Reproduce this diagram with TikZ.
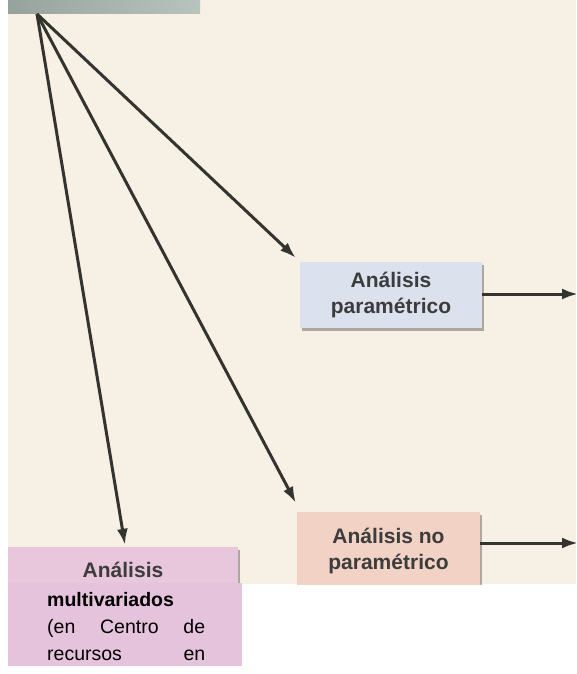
\documentclass[tikz,border=0pt]{standalone}
\usepackage{fontspec}
\setmainfont{Liberation Sans}
\usetikzlibrary{arrows.meta,shadows}
\definecolor{bgcream}{HTML}{F7F0E4}
\definecolor{topgrey}{HTML}{B9C3BE}
\definecolor{topgreyd}{HTML}{96A39C}
\definecolor{parblue}{HTML}{DCE1EE}
\definecolor{noparpink}{HTML}{F1D2C5}
\definecolor{multipink}{HTML}{E8C7DD}
\definecolor{flatpink}{HTML}{E6C3DC}
\definecolor{arrowgrey}{HTML}{33332F}
\definecolor{boxtext}{HTML}{3C3C3C}
\begin{document}
\begin{tikzpicture}[x=1pt,y=-1pt,
  arr/.style={line width=3pt, draw=arrowgrey, -{Latex[length=16pt,width=11pt]}},
  photobox/.style={inner sep=0pt, font=\fontsize{21}{26}\selectfont\bfseries, text=boxtext, align=center,
    drop shadow={shadow xshift=2pt,shadow yshift=-3pt,opacity=0.3,fill=black}},
  flatbox/.style={inner sep=0pt, fill=flatpink},
  flattext/.style={inner sep=0pt, anchor=north west, text width=158pt, align=left,
    font=\fontsize{19.5}{27}\selectfont, text=black}
]
\useasboundingbox (0,0) rectangle (576,674);
\fill[white] (0,0) rectangle (576,674);
\fill[bgcream] (8,0) rectangle (576,584);
\begin{scope}
\clip (8,0) rectangle (576,584);
\node[inner sep=0pt, minimum width=192pt, minimum height=14pt, left color=topgreyd, right color=topgrey] (top) at (104,7) {};
\coordinate (src) at (37,14);
\node[photobox, fill=parblue, minimum width=182pt, minimum height=66pt] (par) at (391,295) {Análisis\\paramétrico};
\node[photobox, fill=noparpink, minimum width=183pt, minimum height=78pt] (nopar) at (388.5,551) {Análisis no\\paramétrico};
\node[photobox, fill=multipink, minimum width=230pt, minimum height=46pt] (multi) at (123,570) {Análisis};
\coordinate (parout) at (578,294);
\coordinate (noparout) at (578,543);
\draw[arr] (src) -- ([xshift=-4pt,yshift=4pt]par.north west);
\draw[arr] (src) -- ([xshift=-1pt,yshift=9pt]nopar.north west);
\draw[arr] (src) -- ([xshift=2pt,yshift=2pt]multi.north);
\draw[arr] (par.east |- parout) -- (parout);
\draw[arr] (nopar.east |- noparout) -- (noparout);
\end{scope}
\node[flatbox, minimum width=234pt, minimum height=83pt, anchor=north west] (multiflat) at (8,583) {};
\node[flattext] (multilabel) at (47,592) {\textbf{multivariados}\\\makebox[158pt][l]{(en\hfill Centro\hfill de}\\\makebox[158pt][l]{recursos\hfill en}};
\end{tikzpicture}
\end{document}
